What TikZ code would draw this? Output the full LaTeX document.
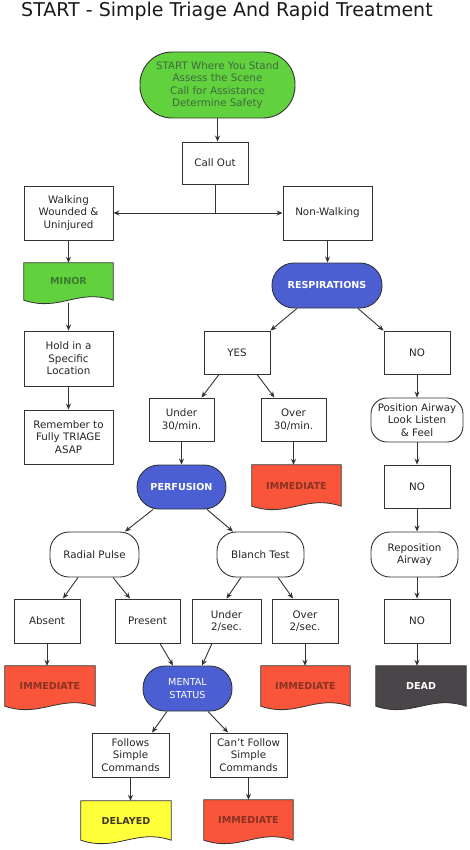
\documentclass[tikz,border=0pt]{standalone}
\usepackage{fontspec}
\setmainfont{DejaVu Sans}
\usetikzlibrary{calc,arrows.meta,backgrounds}
\definecolor{startgreen}{HTML}{62D13E}
\definecolor{startText}{HTML}{3E6A3E}
\definecolor{minorText}{HTML}{3C7A2C}
\definecolor{qblue}{HTML}{4B5FD3}
\definecolor{immred}{HTML}{F8553A}
\definecolor{immText}{HTML}{8A3222}
\definecolor{delyellow}{HTML}{FFFF3A}
\definecolor{delText}{HTML}{403A20}
\definecolor{deadgray}{HTML}{4A4549}
\definecolor{lineC}{HTML}{333333}
\tikzset{
  box/.style={draw=lineC, line width=0.9pt, fill=white, align=center, inner sep=1pt,
    font=\fontsize{10.3}{12.4}\selectfont, text=black!85},
  rbox/.style={box, rounded corners=19pt},
  termblue/.style={box, fill=qblue, text=white, rounded corners=22pt,
    font=\bfseries\fontsize{9.6}{12.4}\selectfont},
  docbox/.style={align=center, inner sep=1pt, font=\bfseries\fontsize{9.6}{12}\selectfont},
  arr/.style={-{Stealth[length=6pt,width=5pt]}, draw=lineC, line width=0.9pt},
  plain/.style={draw=lineC, line width=0.9pt}
}
\newcommand{\docfill}[2]{%
  \begin{pgfonlayer}{background}
    \path[fill=#2, draw=lineC, line width=0.8pt] (#1.north west) -- (#1.north east) -- (#1.south east)
      .. controls +(-36,12) and +(36,-12) .. (#1.south west) -- cycle;
  \end{pgfonlayer}}
\begin{document}
\begin{tikzpicture}[x=1pt,y=1pt]
\useasboundingbox (0,0) rectangle (469,-850);
% title
\node[anchor=west, inner sep=0pt, font=\fontsize{19}{21}\selectfont, text=black!90] (title) at (21,-11) {START - Simple Triage And Rapid Treatment};
% nodes
\node[box, fill=startgreen, text=startText, rounded corners=32pt, minimum width=155pt, minimum height=66pt,
  font=\fontsize{10.3}{12.5}\selectfont] (start) at (217.5,-85)
  {START Where You Stand\\Assess the Scene\\Call for Assistance\\Determine Safety};
\node[box, minimum width=66pt, minimum height=42pt] (callout) at (215,-163) {Call Out};
\node[box, minimum width=89pt, minimum height=54pt] (walk) at (68.5,-213) {Walking\\Wounded \&\\Uninjured};
\node[box, minimum width=89pt, minimum height=54pt] (nonwalk) at (327.5,-213) {Non-Walking};
\node[docbox, text=minorText, minimum width=89pt, minimum height=37pt] (minor) at (68.5,-281.5) {MINOR};
\docfill{minor}{startgreen}
\node[box, minimum width=89pt, minimum height=55pt] (hold) at (68.5,-358.5) {Hold in a\\Specific\\Location};
\node[box, minimum width=89pt, minimum height=54pt] (remember) at (68.5,-437) {Remember to\\Fully TRIAGE\\ASAP};
\node[termblue, minimum width=110pt, minimum height=45pt] (resp) at (327,-285.5) {RESPIRATIONS};
\node[box, minimum width=66pt, minimum height=43pt] (yes) at (237,-352.5) {YES};
\node[box, minimum width=66pt, minimum height=43pt] (no1) at (417,-352.5) {NO};
\node[box, minimum width=65pt, minimum height=43pt] (under30) at (181.5,-419.5) {Under\\30/min.};
\node[box, minimum width=65pt, minimum height=43pt] (over30) at (293.5,-419.5) {Over\\30/min.};
\node[rbox, rounded corners=16pt, minimum width=92pt, minimum height=44pt] (posair) at (417,-420) {Position Airway\\Look Listen\\\& Feel};
\node[termblue, minimum width=89pt, minimum height=44pt] (perf) at (181.5,-487) {PERFUSION};
\node[docbox, text=immText, minimum width=89pt, minimum height=41pt] (imm1) at (296.5,-485.5) {IMMEDIATE};
\docfill{imm1}{immred}
\node[box, minimum width=66pt, minimum height=43pt] (no2) at (417,-486.5) {NO};
\node[rbox, minimum width=89pt, minimum height=45pt] (radial) at (94.5,-554.5) {Radial Pulse};
\node[rbox, minimum width=87pt, minimum height=45pt] (blanch) at (260.5,-554.5) {Blanch Test};
\node[rbox, minimum width=87pt, minimum height=45pt] (repos) at (414.5,-554.5) {Reposition\\Airway};
\node[box, minimum width=66pt, minimum height=44pt] (absent) at (47,-621) {Absent};
\node[box, minimum width=65pt, minimum height=44pt] (present) at (147.5,-621) {Present};
\node[box, minimum width=69pt, minimum height=44pt] (under2) at (226.5,-621) {Under\\2/sec.};
\node[box, minimum width=66pt, minimum height=44pt] (over2) at (305,-621) {Over\\2/sec.};
\node[box, minimum width=66pt, minimum height=44pt] (no3) at (417,-621) {NO};
\node[docbox, text=immText, minimum width=90pt, minimum height=40pt] (imm2) at (50,-686) {IMMEDIATE};
\docfill{imm2}{immred}
\node[termblue, font=\fontsize{9.6}{12.4}\selectfont, minimum width=89pt, minimum height=45pt] (mental) at (187.5,-688.5) {MENTAL\\STATUS};
\node[docbox, text=immText, minimum width=89pt, minimum height=40pt] (imm3) at (305.5,-686) {IMMEDIATE};
\docfill{imm3}{immred}
\node[docbox, text=white, minimum width=90pt, minimum height=40pt] (dead) at (421,-686) {DEAD};
\docfill{dead}{deadgray}
\node[box, minimum width=77pt, minimum height=44pt] (follows) at (130.5,-755) {Follows\\Simple\\Commands};
\node[box, minimum width=77pt, minimum height=44pt] (cant) at (248.5,-755) {Can't Follow\\Simple\\Commands};
\node[docbox, text=delText, minimum width=90pt, minimum height=39pt] (delayed) at (126,-820.5) {DELAYED};
\docfill{delayed}{delyellow}
\node[docbox, text=immText, minimum width=89pt, minimum height=40pt] (imm4) at (248.5,-820) {IMMEDIATE};
\docfill{imm4}{immred}
% connectors
\draw[arr] (start.south) -- (start.south |- callout.north);
\coordinate (split) at (callout.south |- walk.east);
\draw[plain] (callout.south) -- (split);
\draw[arr] (split) -- (walk.east);
\draw[arr] (split) -- (nonwalk.west);
\draw[arr] (walk.south) -- (minor.north);
\draw[arr] ([yshift=-3pt]minor.south) -- (hold.north);
\draw[arr] (hold.south) -- (remember.north);
\draw[arr] (nonwalk.south) -- (nonwalk.south |- resp.north);
\draw[arr] ([xshift=-30pt]resp.south) -- (yes.north east);
\draw[arr] ([xshift=31pt]resp.south) -- (no1.north west);
\draw[arr] ([xshift=-18pt]yes.south) -- ([xshift=20pt]under30.north);
\draw[arr] ([xshift=20pt]yes.south) -- ([xshift=-19pt]over30.north);
\draw[arr] (no1.south) -- (posair.north);
\draw[arr] (under30.south) -- (perf.north);
\draw[arr] (over30.south) -- (over30.south |- imm1.north);
\draw[arr] (posair.south) -- (no2.north);
\draw[arr] (no2.south) -- (no2.south |- repos.north);
\draw[arr] (repos.south -| no3.north) -- (no3.north);
\draw[arr] (no3.south) -- (no3.south |- dead.north);
\draw[arr] ([xshift=-28.5pt]perf.south) -- ([xshift=30.5pt]radial.north);
\draw[arr] ([xshift=25.5pt]perf.south) -- ([xshift=-27.5pt]blanch.north);
\draw[arr] ([xshift=-16.5pt]radial.south) -- ([xshift=16pt]absent.north);
\draw[arr] ([xshift=18.5pt]radial.south) -- ([xshift=-17.5pt]present.north);
\draw[arr] ([xshift=-19.5pt]blanch.south) -- (under2.north);
\draw[arr] ([xshift=17.5pt]blanch.south) -- ([xshift=-12pt]over2.north);
\draw[arr] (absent.south) -- (absent.south |- imm2.north);
\draw[arr] (over2.south) -- (over2.south |- imm3.north);
\draw[arr] ([xshift=12.5pt]present.south) -- ([xshift=-14.5pt]mental.north);
\draw[arr] ([xshift=-14.5pt]under2.south) -- ([xshift=14.5pt]mental.north);
\draw[arr] ([xshift=-20.5pt]mental.south) -- ([xshift=21.5pt]follows.north);
\draw[arr] ([xshift=20.5pt]mental.south) -- ([xshift=-20.5pt]cant.north);
\draw[arr] (follows.south) -- (follows.south |- delayed.north);
\draw[arr] (cant.south) -- (imm4.north);
\end{tikzpicture}
\end{document}
